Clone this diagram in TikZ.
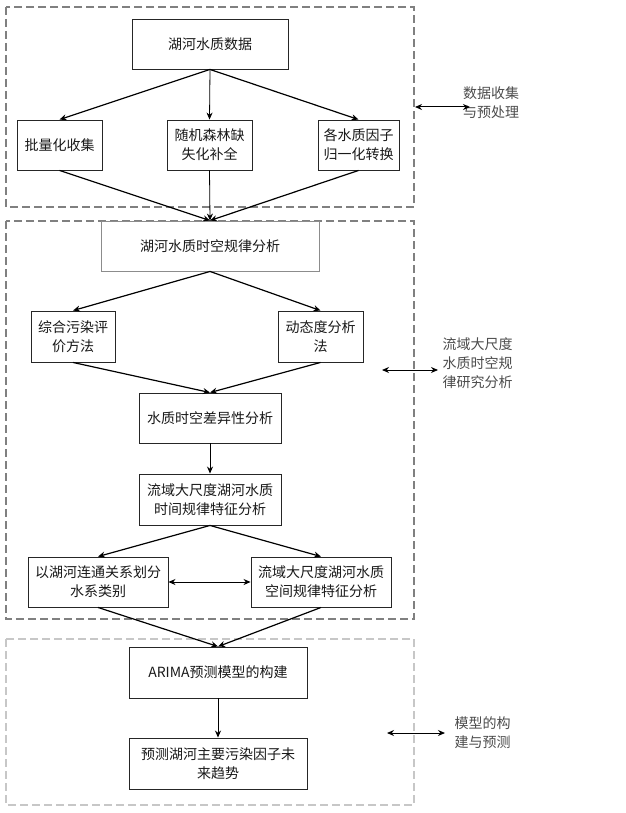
\documentclass[tikz,border=0pt]{standalone}
\usepackage{fontspec}
\setmainfont{Noto Sans CJK SC}
\usetikzlibrary{arrows.meta}
\begin{document}
\begin{tikzpicture}[x=1pt,y=-1pt,
  box/.style={draw=black!85,line width=0.9pt,inner sep=1pt,align=center,
    font=\fontsize{14}{19}\selectfont,text=black!90},
  group/.style={draw=black!50,line width=1.2pt,dash pattern=on 8pt off 4pt},
  lightgroup/.style={draw=black!22,line width=1.2pt,dash pattern=on 8pt off 4pt},
  side/.style={align=left,font=\fontsize{14}{19}\selectfont,text=black!70,inner sep=0pt},
  arr/.style={line width=1.2pt,-{Stealth[length=7pt,width=6pt]}},
  thin/.style={line width=0.8pt,-{Stealth[length=7pt,width=6pt]}},
  dbl/.style={line width=1pt,{Stealth[length=7pt,width=6pt]}-{Stealth[length=7pt,width=6pt]}}]
\useasboundingbox[fill=white] (0,0) rectangle (625,813);
% groups
\draw[group] (6,7) rectangle (414,207);
\draw[group] (6,221) rectangle (414,619);
\draw[lightgroup] (6,639) rectangle (414,805);
% nodes
\node[box,minimum width=156pt,minimum height=50pt] (A) at (210,44) {湖河水质数据};
\node[box,minimum width=85pt,minimum height=50pt] (B1) at (59.5,145) {批量化收集};
\node[box,minimum width=85pt,minimum height=50pt] (B2) at (209.5,145) {随机森林缺\\失化补全};
\node[box,minimum width=81pt,minimum height=50pt] (B3) at (358.5,145) {各水质因子\\归一化转换};
\node[box,draw=black!45,minimum width=218pt,minimum height=50pt] (C) at (210,246) {湖河水质时空规律分析};
\node[box,minimum width=84pt,minimum height=51pt] (D1) at (73,336.5) {综合污染评\\价方法};
\node[box,minimum width=85pt,minimum height=51pt] (D2) at (320.5,336.5) {动态度分析\\法};
\node[box,minimum width=142pt,minimum height=50pt] (E) at (210,418) {水质时空差异性分析};
\node[box,minimum width=142pt,minimum height=51pt] (F) at (210,499.5) {流域大尺度湖河水质\\时间规律特征分析};
\node[box,minimum width=140pt,minimum height=50pt] (G1) at (98,582) {以湖河连通关系划分\\水系类别};
\node[box,minimum width=140pt,minimum height=50pt] (G2) at (321,582) {流域大尺度湖河水质\\空间规律特征分析};
\node[box,minimum width=178pt,minimum height=51pt] (H) at (218,672.5) {ARIMA预测模型的构建};
\node[box,minimum width=178pt,minimum height=51pt] (I) at (218,763.5) {预测湖河主要污染因子未\\来趋势};
% side labels
\node[side] (L1) at (491,103) {数据收集\\与预处理};
\node[side] (L2) at (477.5,363) {流域大尺度\\水质时空规\\律研究分析};
\node[side] (L3) at (482.5,732.5) {模型的构\\建与预测};
\coordinate (a1) at (415,107); \coordinate (b1) at (470,107);
\coordinate (a2) at (382,370); \coordinate (b2) at (438,370);
\coordinate (a3) at (387,733); \coordinate (b3) at (445,733);
% edges
\draw[arr] (A.south) -- (B1.north);
\draw[thin] (A.south) -- (B2.north);
\draw[arr] (A.south) -- (B3.north);
\draw[arr] (B1.south) -- (C.north);
\draw[thin] (B2.south) -- (C.north);
\draw[arr] (B3.south) -- (C.north);
\draw[arr] (C.south) -- (D1.north);
\draw[arr] (C.south) -- (D2.north);
\draw[arr] (D1.south) -- (E.north);
\draw[arr] (D2.south) -- (E.north);
\draw[thin] (E.south) -- (F.north);
\draw[arr] (F.south) -- (G1.north);
\draw[arr] (F.south) -- (G2.north);
\draw[dbl,line width=0.8pt] (G1.east) -- (G2.west);
\draw[arr] (G1.south) -- (H.north);
\draw[arr] (G2.south) -- (H.north);
\draw[thin] (H.south) -- (I.north);
\draw[dbl] (a1) -- (b1);
\draw[dbl] (a2) -- (b2);
\draw[dbl] (a3) -- (b3);
\end{tikzpicture}
\end{document}
